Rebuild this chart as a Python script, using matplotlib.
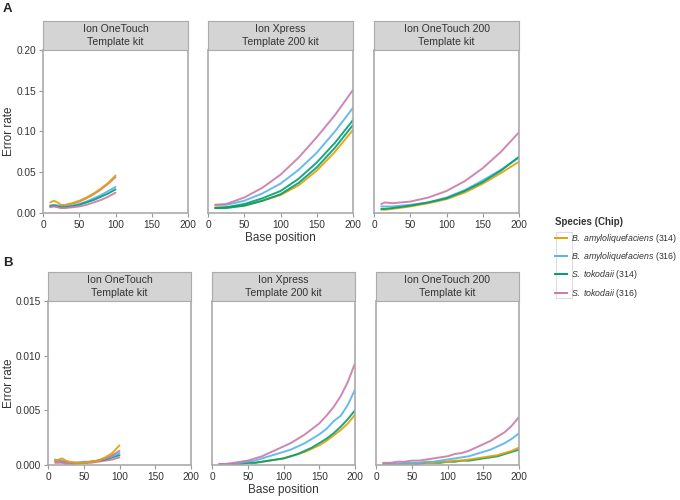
import numpy as np
import matplotlib
matplotlib.use('Agg')
from matplotlib import pyplot as plt
from matplotlib.patches import Rectangle
from matplotlib.lines import Line2D

plt.rcParams['font.family'] = ['Liberation Sans', 'DejaVu Sans']
plt.rcParams['mathtext.fontset'] = 'custom'
plt.rcParams['mathtext.rm'] = 'Liberation Sans'
plt.rcParams['mathtext.it'] = 'Liberation Sans:italic'

# ---- labels ----
kits = ['Ion OneTouch\nTemplate kit', 'Ion Xpress\nTemplate 200 kit', 'Ion OneTouch 200\nTemplate kit']
species = [r'$\it{B.}$ $\it{amyloliquefaciens}$ (314)', r'$\it{B.}$ $\it{amyloliquefaciens}$ (316)',
           r'$\it{S.}$ $\it{tokodaii}$ (314)', r'$\it{S.}$ $\it{tokodaii}$ (316)']
colors = ['#E69F00', '#56B4E9', '#009E73', '#CC79A7']

# ---- panel A (smoothed error rate) ----
xa_ot = [10, 15, 20, 25, 30, 40, 50, 60, 70, 80, 90, 100]
a_ot = [
    (3, [0.009, 0.010, 0.009, 0.009, 0.009, 0.011, 0.014, 0.018, 0.023, 0.029, 0.036, 0.044]),
    (0, [0.013, 0.015, 0.013, 0.010, 0.010, 0.012, 0.015, 0.019, 0.024, 0.030, 0.037, 0.046]),
    (1, [0.009, 0.010, 0.009, 0.008, 0.008, 0.009, 0.011, 0.014, 0.018, 0.022, 0.027, 0.032]),
    (2, [0.008, 0.009, 0.008, 0.007, 0.007, 0.008, 0.010, 0.013, 0.016, 0.020, 0.024, 0.029]),
    (3, [0.007, 0.008, 0.007, 0.006, 0.006, 0.007, 0.008, 0.010, 0.013, 0.016, 0.020, 0.025]),
]
xa_xp = [10, 25, 50, 75, 100, 125, 150, 175, 200]
a_xp = [
    (0, [0.007, 0.007, 0.009, 0.015, 0.022, 0.034, 0.052, 0.075, 0.102]),
    (2, [0.006, 0.006, 0.009, 0.015, 0.023, 0.037, 0.056, 0.080, 0.108]),
    (2, [0.006, 0.007, 0.011, 0.018, 0.027, 0.042, 0.062, 0.086, 0.114]),
    (1, [0.010, 0.010, 0.015, 0.024, 0.036, 0.053, 0.074, 0.100, 0.129]),
    (3, [0.010, 0.011, 0.019, 0.031, 0.047, 0.068, 0.093, 0.120, 0.151]),
]
xa_ot200 = [10, 15, 25, 50, 75, 100, 125, 150, 175, 200]
a_ot200 = [
    (1, [0.008, 0.008, 0.008, 0.010, 0.013, 0.019, 0.028, 0.040, 0.053, 0.068]),
    (0, [0.004, 0.004, 0.005, 0.008, 0.012, 0.017, 0.025, 0.036, 0.049, 0.063]),
    (2, [0.005, 0.005, 0.006, 0.009, 0.013, 0.018, 0.027, 0.038, 0.052, 0.069]),
    (3, [0.011, 0.013, 0.012, 0.014, 0.019, 0.027, 0.039, 0.055, 0.075, 0.099]),
]

# ---- panel B (raw error rate) ----
xb_ot = [10, 15, 20, 25, 30, 40, 50, 60, 70, 80, 90, 100]
b_ot = [
    (3, [0.0002, 0.0002, 0.0002, 0.0001, 0.0001, 0.0001, 0.0002, 0.0002, 0.0003, 0.0004, 0.0005, 0.0007]),
    (2, [0.0004, 0.0004, 0.0003, 0.0003, 0.0002, 0.0002, 0.0002, 0.0003, 0.0004, 0.0005, 0.0007, 0.0009]),
    (1, [0.0005, 0.0004, 0.0004, 0.0003, 0.0002, 0.0002, 0.0003, 0.0003, 0.0004, 0.0006, 0.0008, 0.0011]),
    (3, [0.0003, 0.0003, 0.0003, 0.0002, 0.0002, 0.0002, 0.0002, 0.0003, 0.0004, 0.0006, 0.0009, 0.0013]),
    (0, [0.0004, 0.0005, 0.0006, 0.0004, 0.0003, 0.0002, 0.0002, 0.0003, 0.0004, 0.0007, 0.0011, 0.0018]),
]
xb = [10, 20, 30, 40, 50, 60, 70, 80, 90, 100, 110, 120, 130, 140, 150, 160, 170, 180, 190, 200]
b_xp = [
    (0, [0.0000, 0.0000, 0.0001, 0.0001, 0.0002, 0.0002, 0.0003, 0.0004, 0.0005, 0.0006,
         0.0008, 0.0010, 0.0012, 0.0015, 0.0018, 0.0022, 0.0027, 0.0032, 0.0038, 0.0046]),
    (2, [0.0000, 0.0000, 0.0001, 0.0001, 0.0002, 0.0002, 0.0003, 0.0004, 0.0005, 0.0006,
         0.0008, 0.0010, 0.0013, 0.0016, 0.0020, 0.0024, 0.0029, 0.0035, 0.0042, 0.0050]),
    (1, [0.0001, 0.0001, 0.0001, 0.0002, 0.0003, 0.0004, 0.0006, 0.0008, 0.0010, 0.0012,
         0.0014, 0.0017, 0.0020, 0.0024, 0.0028, 0.0033, 0.0040, 0.0045, 0.0055, 0.0069]),
    (3, [0.0001, 0.0001, 0.0002, 0.0003, 0.0004, 0.0006, 0.0008, 0.0011, 0.0014, 0.0017,
         0.0020, 0.0024, 0.0028, 0.0033, 0.0038, 0.0045, 0.0053, 0.0063, 0.0076, 0.0093]),
]
b_ot200 = [
    (2, [0.0000, 0.0000, 0.0001, 0.0001, 0.0001, 0.0001, 0.0002, 0.0002, 0.0002, 0.0003,
         0.0003, 0.0004, 0.0004, 0.0005, 0.0006, 0.0007, 0.0008, 0.0010, 0.0012, 0.0014]),
    (0, [0.0001, 0.0001, 0.0001, 0.0001, 0.0001, 0.0002, 0.0002, 0.0002, 0.0003, 0.0003,
         0.0004, 0.0004, 0.0005, 0.0006, 0.0007, 0.0008, 0.0009, 0.0011, 0.0013, 0.0016]),
    (1, [0.0001, 0.0001, 0.0001, 0.0002, 0.0002, 0.0002, 0.0003, 0.0003, 0.0004, 0.0005,
         0.0006, 0.0007, 0.0008, 0.0010, 0.0012, 0.0014, 0.0017, 0.0020, 0.0024, 0.0029]),
    (3, [0.0002, 0.0002, 0.0003, 0.0003, 0.0004, 0.0004, 0.0005, 0.0006, 0.0007, 0.0008,
         0.0010, 0.0011, 0.0013, 0.0016, 0.0019, 0.0022, 0.0026, 0.0030, 0.0036, 0.0044]),
]

W, H = 680, 500
fig = plt.figure(figsize=(W / 100, H / 100), dpi=100)

grey = '#999999'
txt = '#333333'


def px(x0, y0, x1, y1):
    # pixel box (top-left origin) -> figure fraction rect
    return [x0 / W, 1 - y1 / H, (x1 - x0) / W, (y1 - y0) / H]


def panel(box, strip_top, kit, xs, series, ylim, yticks, ylabels, first, middle):
    x0, y0, x1, y1 = box
    w, h = x1 - x0, y1 - y0
    ax = fig.add_axes(px(x0, y0, x1, y1))
    for idx, ys in series:
        ax.plot(xs, ys, color=colors[idx], lw=1.4, alpha=0.9, solid_capstyle='round')
    ax.set_xlim(0, 200)
    ax.set_ylim(*ylim)
    ax.set_xticks([0, 50, 100, 150, 200])
    ax.spines['top'].set_visible(False)
    for s in ['left', 'right', 'bottom']:
        ax.spines[s].set_color('#AAAAAA')
        ax.spines[s].set_linewidth(1.2)
    ax.tick_params(axis='x', colors=grey, labelcolor=txt, labelsize=7.3, length=3, pad=2)
    if first:
        ax.set_yticks(yticks)
        ax.set_yticklabels(ylabels)
        ax.tick_params(axis='y', colors=grey, labelcolor=txt, labelsize=7.3, length=3, pad=2)
        ax.set_ylabel('Error rate', fontsize=8.5, color=txt, va='center')
        ax.yaxis.set_label_coords((9 - x0) / w, 0.5)
    else:
        ax.set_yticks([])
    if middle:
        ax.set_xlabel('Base position', fontsize=8.5, color=txt, va='center')
        ax.xaxis.set_label_coords(0.5, -25 / h)
    sax = fig.add_axes(px(x0, strip_top, x1, y0))
    sax.set_facecolor('#D4D4D4')
    sax.set_xticks([])
    sax.set_yticks([])
    for s in sax.spines.values():
        s.set_color('#AAAAAA')
    sax.text(0.5, 0.5, kit, ha='center', va='center', fontsize=7.6, color=txt,
             linespacing=1.45, transform=sax.transAxes)
    return ax


a_data = [(xa_ot, a_ot), (xa_xp, a_xp), (xa_ot200, a_ot200)]
b_data = [(xb_ot, b_ot), (xb, b_xp), (xb, b_ot200)]
a_left = [43, 208, 374]
b_left = [48, 212, 376]

for i in range(3):
    panel((a_left[i], 50, a_left[i] + 145, 213), 21, kits[i], a_data[i][0], a_data[i][1],
          (0, 0.2), [0, 0.05, 0.1, 0.15, 0.2], ['0.00', '0.05', '0.10', '0.15', '0.20'],
          i == 0, i == 1)
    panel((b_left[i], 301, b_left[i] + 143, 465), 272, kits[i], b_data[i][0], b_data[i][1],
          (0, 0.015), [0, 0.005, 0.01, 0.015], ['0.000', '0.005', '0.010', '0.015'],
          i == 0, i == 1)

fig.text(3 / W, 1 - 9 / H, 'A', fontsize=9.5, fontweight='bold', va='center', color='#222222')
fig.text(3 / W, 1 - 263 / H, 'B', fontsize=9.5, fontweight='bold', va='center', color='#222222')

# legend
handles = [Line2D([], [], color=c, lw=1.4) for c in colors]
leg = fig.legend(handles, species, loc='upper left', bbox_to_anchor=(553 / W, 1 - 215 / H),
                 frameon=False, title='Species (Chip)', alignment='left',
                 fontsize=6.3, handlelength=1.4, handletextpad=0.5, labelspacing=0.6,
                 borderaxespad=0, borderpad=0.2)
leg.get_title().set_fontweight('bold')
leg.get_title().set_fontsize(7)
leg.get_title().set_color(txt)
for t in leg.get_texts():
    t.set_color(txt)
fig.patches.append(Rectangle((556 / W, 1 - 298 / H), 16 / W, 66 / H, fill=False,
                             edgecolor='#DDDDDD', lw=0.8, transform=fig.transFigure))

fig.savefig('out.png', dpi=100)
